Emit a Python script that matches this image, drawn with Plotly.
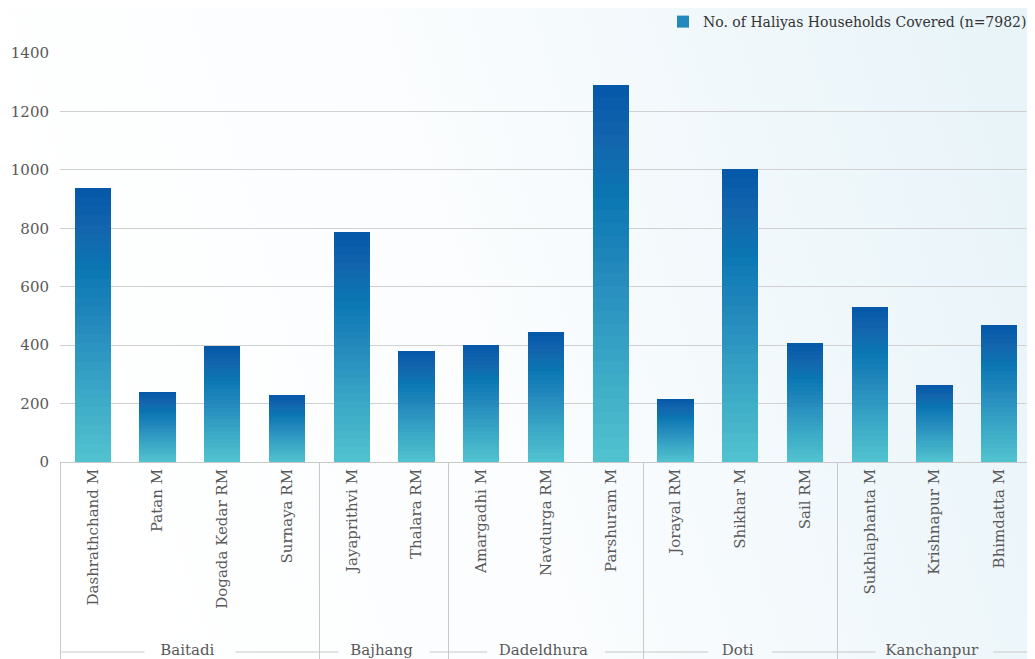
import base64
import plotly.graph_objects as go
from plotly.colors import sample_colorscale

districts = ["Baitadi", "Baitadi", "Baitadi", "Baitadi",
             "Bajhang", "Bajhang",
             "Dadeldhura", "Dadeldhura", "Dadeldhura",
             "Doti", "Doti", "Doti",
             "Kanchanpur", "Kanchanpur", "Kanchanpur"]
municipalities = ["Dashrathchand M", "Patan M", "Dogada Kedar RM", "Surnaya RM",
                  "Jayaprithvi M", "Thalara RM",
                  "Amargadhi M", "Navdurga RM", "Parshuram M",
                  "Jorayal RM", "Shikhar M", "Sail RM",
                  "Sukhlaphanta M", "Krishnapur M", "Bhimdatta M"]
households = [938, 240, 397, 229, 787, 380, 400, 445, 1292, 216, 1004, 407, 531, 264, 469]
series_name = "No. of Haliyas Households Covered (n=7982)"
y_ticks = [0, 200, 400, 600, 800, 1000, 1200, 1400]

# gradient (bottom -> top) approximated by stacked slices of each bar
gradient = [[0.0, "#52c3cf"], [0.25, "#3aa8c6"], [0.5, "#258abd"],
            [0.7, "#0a77b3"], [0.85, "#1365ad"], [1.0, "#0457a8"]]
N = 30
colors = sample_colorscale(gradient, [(i + 0.5) / N for i in range(N)])

# leading non-breaking spaces push the district row lower (text is end-anchored at the axis)
inner_labels = ["\u00a0" * 3 + "\u2009" + m for m in municipalities]

FONT = "DejaVu Serif"
W, H = 1035, 659
ML, MR, MT, MB = 52, 11, 45, 205
PW, PH = W - ML - MR, H - MT - MB

fig = go.Figure()
for i, c in enumerate(colors):
    fig.add_trace(go.Bar(
        x=[districts, inner_labels],
        y=[v / N for v in households],
        marker=dict(color=c, line=dict(width=0)),
        name=series_name,
        showlegend=(i == N // 2),
        legendgroup="g",
        hoverinfo="skip",
    ))

# soft light-blue background wash towards the right
svg = ('<svg xmlns="http://www.w3.org/2000/svg" width="100" height="100" preserveAspectRatio="none">'
       '<defs><linearGradient id="g" x1="0" y1="0.6" x2="1" y2="0.4">'
       '<stop offset="0" stop-color="#ffffff"/><stop offset="0.45" stop-color="#fbfdfe"/>'
       '<stop offset="1" stop-color="#e9f4f9"/></linearGradient></defs>'
       '<rect width="100" height="100" fill="url(#g)"/></svg>')
fig.add_layout_image(dict(
    source="data:image/svg+xml;base64," + base64.b64encode(svg.encode()).decode(),
    xref="paper", yref="paper", x=-ML / PW, y=1 + MT / PH,
    sizex=W / PW, sizey=H / PH, sizing="stretch", layer="below",
    xanchor="left", yanchor="top",
))

line_col = "#c8c8c8"
fig.add_shape(type="line", xref="paper", yref="paper", x0=1, x1=1, y0=0, y1=-0.5,
              line=dict(color=line_col, width=1), layer="above")

# bracket lines beside each district label (Excel-style)
y_br = -190 / PH
px_per_cat = PW / len(municipalities)
groups = []
for idx, d in enumerate(districts):
    if groups and groups[-1][0] == d:
        groups[-1][2] = idx
    else:
        groups.append([d, idx, idx])
for d, a, b in groups:
    left, right = a - 0.5, b + 0.5
    mid = (left + right) / 2
    half = (len(d) * 9.0 / 2 + 14) / px_per_cat
    for x0, x1 in ((left, mid - half), (mid + half, right)):
        fig.add_shape(type="line", xref="x", yref="paper", x0=x0, x1=x1, y0=y_br, y1=y_br,
                      line=dict(color=line_col, width=1), layer="above")

fig.update_layout(
    barmode="stack",
    bargap=0.44,
    width=W, height=H,
    margin=dict(l=ML, r=MR, t=MT, b=MB, autoexpand=False),
    paper_bgcolor="white",
    plot_bgcolor="rgba(0,0,0,0)",
    font=dict(family=FONT, size=15, color="#595959"),
    legend=dict(x=1, xanchor="right", y=1 - 14 / H, yanchor="middle",
                yref="container", orientation="h",
                font=dict(family=FONT, size=14, color="#333333"),
                bgcolor="rgba(0,0,0,0)"),
    xaxis=dict(
        type="multicategory",
        tickangle=-90,
        showline=True, linecolor=line_col, linewidth=1,
        ticks="", showgrid=False, automargin=False,
        showdividers=True, dividercolor=line_col, dividerwidth=1,
        tickfont=dict(family=FONT, size=15, color="#595959"),
    ),
    yaxis=dict(
        range=[0, 1400],
        tickvals=y_ticks,
        showgrid=True, gridcolor="#d0d0d0", gridwidth=1,
        zeroline=False, showline=False, ticks="", automargin=False,
        ticklabelstandoff=10,
        tickfont=dict(family=FONT, size=15, color="#595959"),
    ),
)

fig.write_html("out.html")
